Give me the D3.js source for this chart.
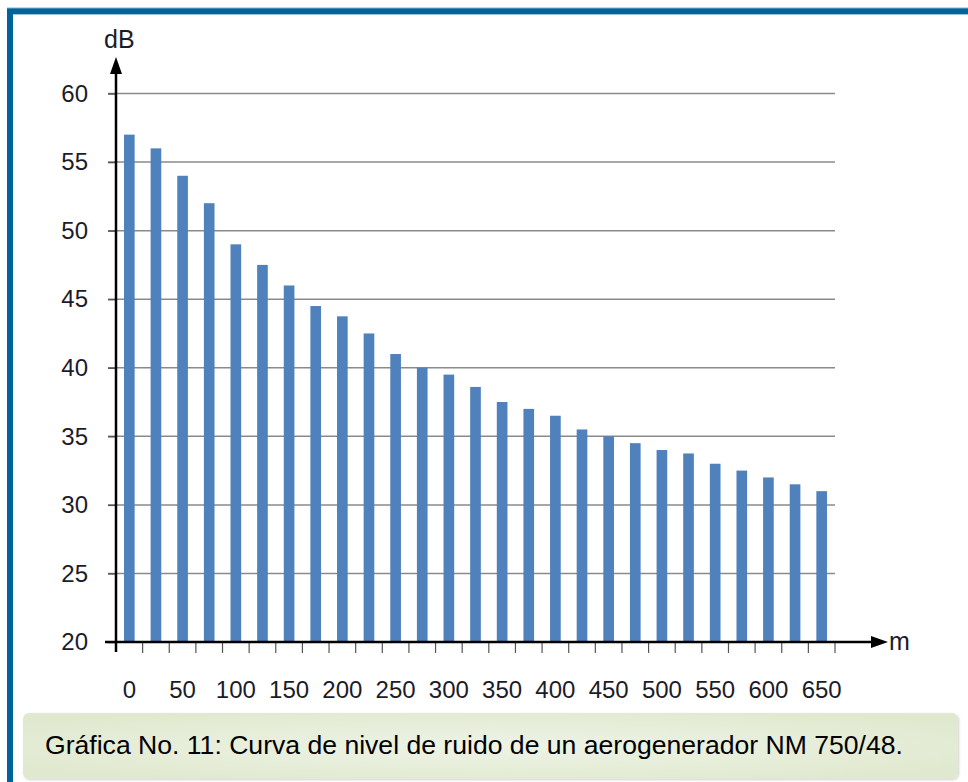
<!DOCTYPE html>
<html>
<head>
<meta charset="utf-8">
<script src="https://cdn.jsdelivr.net/npm/d3@7"></script>
<style>
html,body{margin:0;padding:0;background:#fff;}
svg{display:block;}
</style>
</head>
<body>
<svg id="chart" width="968" height="782"></svg>
<script>
// ---- data ----
const distances = [0,25,50,75,100,125,150,175,200,225,250,275,300,325,350,375,400,425,450,475,500,525,550,575,600,625,650];
const noiseDb = [57,56,54,52,49,47.5,46,44.5,43.75,42.5,41,40,39.5,38.6,37.5,37,36.5,35.5,35,34.5,34,33.75,33,32.5,32,31.5,31];
const yTicks = [20,25,30,35,40,45,50,55,60];
const xTickLabels = [0,50,100,150,200,250,300,350,400,450,500,550,600,650];
const yAxisTitle = "dB";
const xAxisTitle = "m";
const caption = "Gráfica No. 11: Curva de nivel de ruido de un aerogenerador NM 750/48.";

const svg = d3.select("#chart");
const font = "'Liberation Sans', Arial, sans-serif";
const labelColor = "#1c1c28";

// frame
svg.append("rect").attr("x",7).attr("y",8).attr("width",968).attr("height",6).attr("fill","#00649b");
svg.append("rect").attr("x",7).attr("y",8).attr("width",6).attr("height",782).attr("fill","#00649b");
svg.append("line").attr("x1",7).attr("x2",968).attr("y1",8).attr("y2",8).attr("stroke","#7fb2cf").attr("stroke-width",1);
svg.append("line").attr("x1",13).attr("x2",968).attr("y1",14.5).attr("y2",14.5).attr("stroke","#9cc3da").attr("stroke-width",1);

// scales
const x = d3.scaleBand().domain(distances).range([116,835]).paddingInner(0.6).paddingOuter(0.3);
const y = d3.scaleLinear().domain([20,60]).range([642,93.5]);

// gridlines
svg.append("g").selectAll("line").data(yTicks.slice(1)).join("line")
  .attr("x1",108).attr("x2",835)
  .attr("y1",d=>y(d)).attr("y2",d=>y(d))
  .attr("stroke","#8a8a8a").attr("stroke-width",1.5);

// bars
svg.append("g").selectAll("rect").data(distances).join("rect")
  .attr("x",d=>x(d))
  .attr("width",x.bandwidth())
  .attr("y",(d,i)=>y(noiseDb[i]))
  .attr("height",(d,i)=>y(20)-y(noiseDb[i]))
  .attr("fill","#4f81bd");

// y axis
const yAxis = d3.axisLeft(y).tickValues(yTicks).tickSize(8).tickPadding(20).tickFormat(d3.format("d"));
const gy = svg.append("g").attr("transform","translate(116,0)").call(yAxis);
gy.select(".domain").remove();
gy.selectAll(".tick line").attr("stroke","#555").attr("stroke-width",1.5);
gy.selectAll(".tick text").attr("font-family",font).attr("font-size",24).attr("fill",labelColor);

// x axis ticks at band boundaries (right edge of each band)
const step = x.step();
const bounds = distances.map(d=>x(d) + x.bandwidth() + (step - x.bandwidth())/2);
svg.append("g").selectAll("line").data(bounds).join("line")
  .attr("x1",d=>d).attr("x2",d=>d).attr("y1",642).attr("y2",653)
  .attr("stroke","#555").attr("stroke-width",1.2);

// x labels
const xAxis = d3.axisBottom(x).tickValues(xTickLabels).tickSize(0).tickPadding(39);
const gx = svg.append("g").attr("transform","translate(0,642)").call(xAxis);
gx.select(".domain").remove();
gx.selectAll(".tick text").attr("font-family",font).attr("font-size",24).attr("fill",labelColor);

// axis lines with arrows
svg.append("line").attr("x1",116).attr("x2",116).attr("y1",652).attr("y2",70)
  .attr("stroke","#000").attr("stroke-width",2.5);
svg.append("path").attr("d","M116,57 L110,74 L122,74 Z").attr("fill","#000");
svg.append("line").attr("x1",105).attr("x2",872).attr("y1",642).attr("y2",642)
  .attr("stroke","#000").attr("stroke-width",2.5);
svg.append("path").attr("d","M888,642 L871,636 L871,648 Z").attr("fill","#000");

svg.append("text").attr("x",104).attr("y",48).text(yAxisTitle)
  .attr("font-family",font).attr("font-size",25).attr("fill",labelColor);
svg.append("text").attr("x",889).attr("y",650).text(xAxisTitle)
  .attr("font-family",font).attr("font-size",25).attr("fill",labelColor);

// caption box
const defs = svg.append("defs");
const grad = defs.append("radialGradient").attr("id","capg").attr("cx","50%").attr("cy","50%").attr("r","60%");
grad.append("stop").attr("offset","0%").attr("stop-color","#eef3e6");
grad.append("stop").attr("offset","100%").attr("stop-color","#e0e9cf");
const flt = defs.append("filter").attr("id","sh").attr("x","-5%").attr("y","-20%").attr("width","110%").attr("height","150%");
flt.append("feDropShadow").attr("dx",1).attr("dy",1).attr("stdDeviation",1.2).attr("flood-color","#000").attr("flood-opacity",0.18);
svg.append("rect").attr("x",23).attr("y",713).attr("width",935).attr("height",66).attr("rx",6)
  .attr("fill","url(#capg)").attr("filter","url(#sh)");
const cap = svg.append("text").attr("x",45).attr("y",754).text(caption)
  .attr("font-family",font).attr("font-size",24).attr("fill","#000");
const w = cap.node().getComputedTextLength();
cap.attr("font-size", 24*858/w);
</script>
</body>
</html>
